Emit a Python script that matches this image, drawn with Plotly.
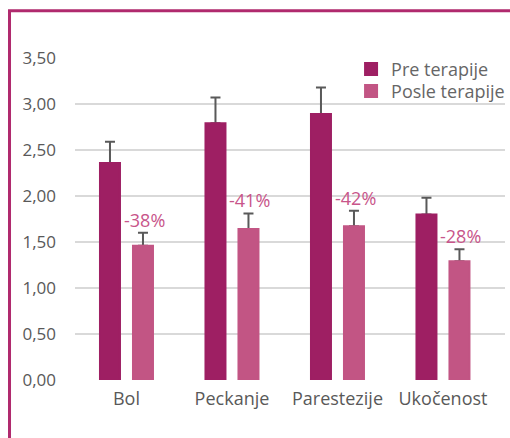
import plotly.graph_objects as go

categories = ["Bol", "Peckanje", "Parestezije", "Ukočenost"]
pre_values = [2.36, 2.79, 2.89, 1.80]
pre_errors = [0.23, 0.28, 0.29, 0.18]
post_values = [1.46, 1.64, 1.67, 1.29]
post_errors = [0.14, 0.17, 0.17, 0.13]
change_labels = ["-38%", "-41%", "-42%", "-28%"]
y_ticks = [0, 0.5, 1.0, 1.5, 2.0, 2.5, 3.0, 3.5]

PRE_COLOR = "#9e1f63"
POST_COLOR = "#c25584"
LABEL_COLOR = "#c8558a"
TEXT_COLOR = "#595959"
ERR_COLOR = "#595959"
FRAME_COLOR = "#b02a6e"
FONT = "Open Sans"

fig = go.Figure()
series = [
    ("Pre terapije", pre_values, pre_errors, PRE_COLOR, "legend", "pre"),
    ("Posle terapije", post_values, post_errors, POST_COLOR, "legend2", "post"),
]
# bars carrying the (upper-only) error bars
for name, vals, errs, color, leg, grp in series:
    fig.add_trace(go.Bar(
        name=name, x=categories, y=vals, legend=leg, offsetgroup=grp,
        marker=dict(color=color, line=dict(width=0)), showlegend=False,
        error_y=dict(type="data", array=errs, arrayminus=[0] * len(errs),
                     symmetric=False, color=ERR_COLOR, thickness=2, width=5),
    ))
# same bars drawn on top (hides the lower cap of the error bar)
for name, vals, errs, color, leg, grp in series:
    fig.add_trace(go.Bar(
        name=name, x=categories, y=vals, legend=leg, offsetgroup=grp,
        marker=dict(color=color, line=dict(width=2, color=color)),
    ))

for cat, v, e, lab in zip(categories, post_values, post_errors, change_labels):
    fig.add_annotation(x=cat, y=v + e, text=lab, showarrow=False,
                       xshift=18, yshift=13, yanchor="middle", xanchor="center",
                       font=dict(family=FONT, size=18, color=LABEL_COLOR))

# outer frame
fig.add_shape(type="rect", xref="paper", yref="paper",
              x0=-0.1523, x1=1.2, y0=-0.3, y1=1.1467,
              line=dict(color=FRAME_COLOR, width=3), fillcolor="rgba(0,0,0,0)",
              layer="below")

legend_style = dict(xanchor="left", yanchor="middle", bgcolor="rgba(0,0,0,0)",
                    font=dict(family=FONT, size=18, color="#666666"), itemwidth=30)

fig.update_layout(
    width=510, height=438, autosize=False,
    margin=dict(l=75, r=5, t=58, b=58, pad=0, autoexpand=False),
    paper_bgcolor="white", plot_bgcolor="white",
    barmode="group", bargap=0.3744, bargroupgap=0.394,
    separators=",.",
    font=dict(family=FONT, size=18, color=TEXT_COLOR),
    showlegend=True,
    legend=dict(x=0.642, y=0.965, **legend_style),
    legend2=dict(x=0.642, y=0.8965, **legend_style),
    xaxis=dict(type="category", range=[-0.488, 3.588], showgrid=False, zeroline=False,
               showline=False, ticks="", ticklabelstandoff=6,
               tickfont=dict(size=18, color=TEXT_COLOR)),
    yaxis=dict(range=[0, 3.5], tickvals=y_ticks, tickformat=".2f", showgrid=True,
               gridcolor="#d9d9d9", gridwidth=1.5, zeroline=False, showline=False,
               ticks="", ticklabelstandoff=18, tickfont=dict(size=17, color=TEXT_COLOR)),
)

fig.write_html(
    "out.html",
    config={"responsive": False, "displayModeBar": False},
    post_script="document.body.style.margin='0';document.body.style.overflow='hidden';",
)
